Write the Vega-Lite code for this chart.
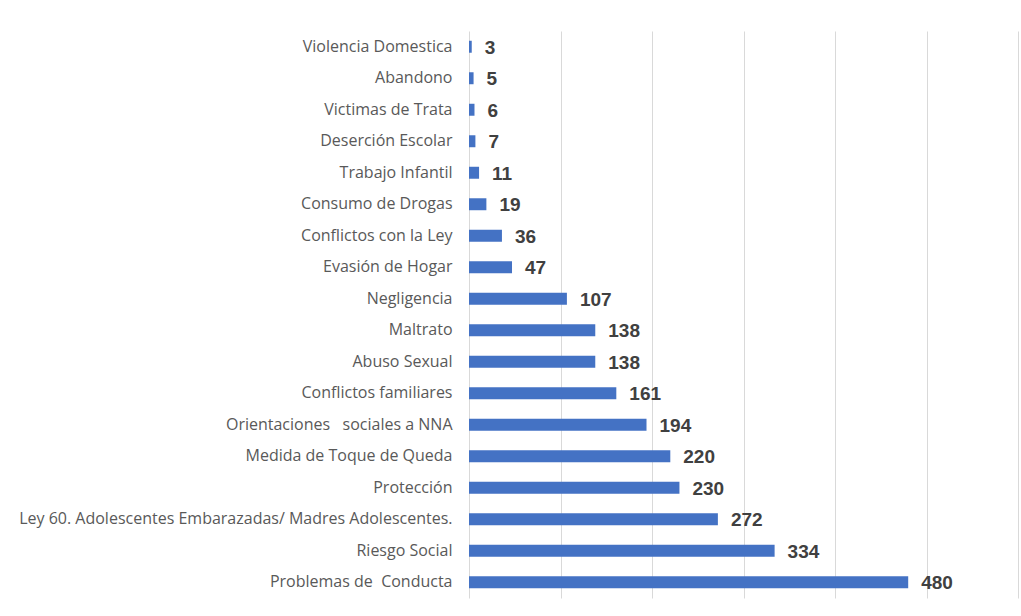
{
  "$schema": "https://vega.github.io/schema/vega-lite/v6.json",
  "width": 549,
  "height": 567,
  "autosize": {"type": "none"},
  "padding": {"left": 469, "top": 31, "right": 3, "bottom": 18},
  "background": "white",
  "config": {"view": {"stroke": null}},
  "data": {"values": [
    {"categoria": "Violencia Domestica", "casos": 3},
    {"categoria": "Abandono\u00a0", "casos": 5},
    {"categoria": "Victimas de Trata", "casos": 6},
    {"categoria": "Deserción Escolar\u00a0", "casos": 7},
    {"categoria": "Trabajo Infantil\u00a0", "casos": 11},
    {"categoria": "Consumo de Drogas", "casos": 19},
    {"categoria": "Conflictos con la Ley", "casos": 36},
    {"categoria": "Evasión de Hogar", "casos": 47},
    {"categoria": "Negligencia\u00a0", "casos": 107},
    {"categoria": "Maltrato", "casos": 138},
    {"categoria": "Abuso Sexual\u00a0", "casos": 138},
    {"categoria": "Conflictos familiares\u00a0", "casos": 161},
    {"categoria": "Orientaciones\u00a0\u00a0 sociales a NNA", "casos": 194},
    {"categoria": "Medida de Toque de Queda\u00a0", "casos": 220},
    {"categoria": "Protección\u00a0", "casos": 230},
    {"categoria": "Ley 60. Adolescentes Embarazadas/ Madres Adolescentes.", "casos": 272},
    {"categoria": "Riesgo Social\u00a0", "casos": 334},
    {"categoria": "Problemas de\u00a0 Conducta", "casos": 480}
  ]},
  "encoding": {
    "y": {
      "field": "categoria", "type": "nominal", "sort": null,
      "scale": {"paddingInner": 0.62},
      "axis": {
        "title": null, "domain": false, "ticks": false,
        "labelFont": "Open Sans", "labelFontSize": 16, "labelColor": "#595959",
        "labelPadding": 17, "labelLimit": 500
      }
    },
    "x": {
      "field": "casos", "type": "quantitative",
      "scale": {"domain": [0, 600], "nice": false},
      "axis": {
        "title": null, "labels": false, "ticks": false, "domain": false,
        "grid": true, "gridColor": "#d9d9d9", "gridWidth": 1,
        "values": [0, 100, 200, 300, 400, 500, 600]
      }
    }
  },
  "layer": [
    {"mark": {"type": "bar", "color": "#4472C4"}},
    {
      "mark": {"type": "text", "align": "left", "baseline": "middle", "dx": 13, "dy": 1,
        "font": "Liberation Sans", "fontSize": 19, "fontWeight": "bold", "color": "#404040"},
      "encoding": {"text": {"field": "casos", "type": "quantitative"}}
    }
  ]
}
